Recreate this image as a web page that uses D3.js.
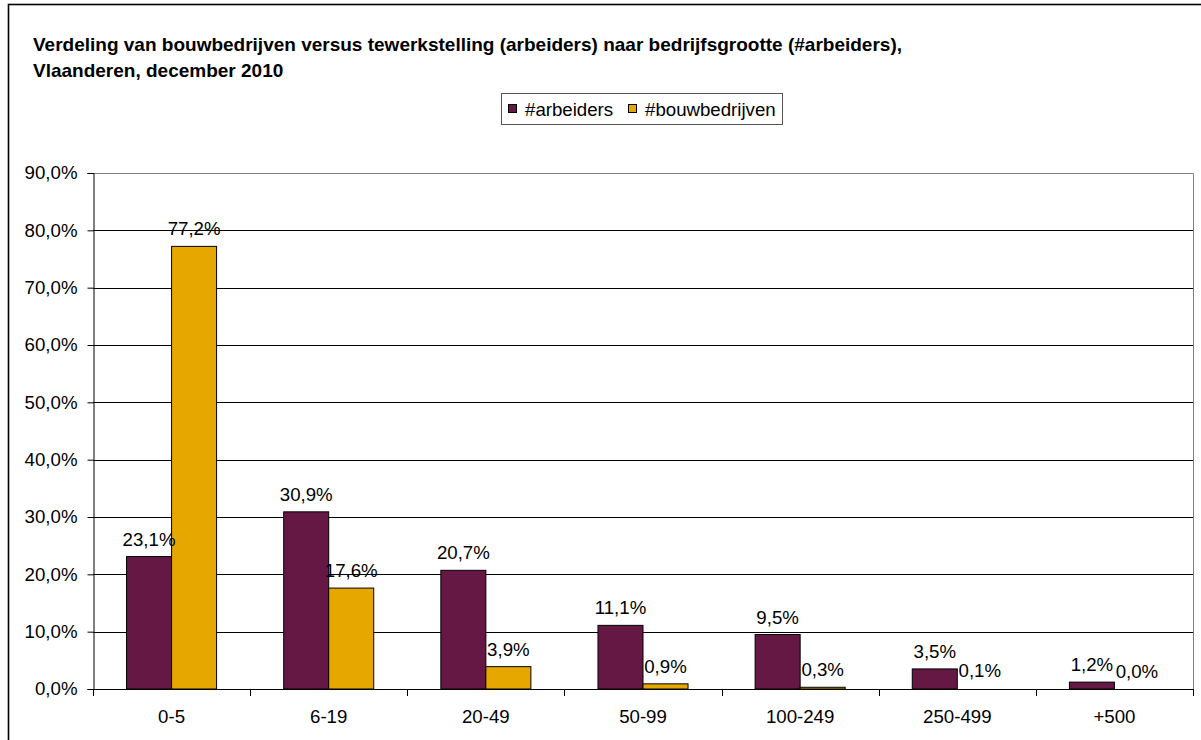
<!DOCTYPE html>
<html>
<head>
<meta charset="utf-8">
<script src="https://cdn.jsdelivr.net/npm/d3@7"></script>
<style>
  body { margin: 0; background: #fff; }
  svg { display: block; font-family: "Liberation Sans", Arial, sans-serif; }
</style>
</head>
<body>
<div id="chart"></div>
<script>
// data
const categories = ['0-5', '6-19', '20-49', '50-99', '100-249', '250-499', '+500'];
const seriesNames = ['#arbeiders', '#bouwbedrijven'];
const arbeiders = [23.1, 30.9, 20.7, 11.1, 9.5, 3.5, 1.2];
const bouwbedrijven = [77.2, 17.6, 3.9, 0.9, 0.3, 0.1, 0.0];
const yTicks = [0, 10, 20, 30, 40, 50, 60, 70, 80, 90];
const titleLines = [
  'Verdeling van bouwbedrijven versus tewerkstelling (arbeiders) naar bedrijfsgrootte (#arbeiders),',
  'Vlaanderen, december 2010'
];
const colors = ['#661845', '#E6A800'];

const W = 1201, H = 740;
const plot = { left: 93, right: 1193, top: 173, bottom: 689 };
const fmt = v => v.toFixed(1).replace('.', ',') + '%';

const svg = d3.select('#chart').append('svg')
  .attr('width', W)
  .attr('height', H);

// outer chart frame
svg.append('rect')
  .attr('x', 8.5).attr('y', 4.5)
  .attr('width', W).attr('height', H)
  .attr('fill', '#fff')
  .attr('stroke', '#000')
  .attr('stroke-width', 1.6);

// title
svg.append('text')
  .attr('x', 33)
  .attr('font-size', '19px')
  .attr('font-weight', 'bold')
  .selectAll('tspan')
  .data(titleLines)
  .enter()
  .append('tspan')
  .attr('x', 33)
  .attr('y', (d, i) => 51 + i * 26)
  .text(d => d);

// scales
const x0 = d3.scaleBand()
  .domain(categories)
  .range([plot.left, plot.right])
  .paddingInner(0.427)
  .paddingOuter(0.2135);

const x1 = d3.scaleBand()
  .domain(seriesNames)
  .range([0, x0.bandwidth()]);

const y = d3.scaleLinear()
  .domain([0, 90])
  .range([plot.bottom, plot.top]);

// gridlines
svg.append('g')
  .selectAll('line')
  .data(yTicks.slice(1, -1))
  .enter()
  .append('line')
  .attr('x1', plot.left).attr('x2', plot.right)
  .attr('y1', d => Math.round(y(d)) + 0.5)
  .attr('y2', d => Math.round(y(d)) + 0.5)
  .attr('stroke', '#000');

// plot area top/right border
svg.append('path')
  .attr('d', `M${plot.left},${plot.top + 0.5}H${plot.right + 0.5}V${plot.bottom}`)
  .attr('fill', 'none')
  .attr('stroke', '#808080');

// bars (bars thinner than a pixel are not visible in the original)
const series = [arbeiders, bouwbedrijven];
series.forEach((vals, s) => {
  svg.append('g')
    .selectAll('rect')
    .data(vals.map((v, i) => ({ v, i })).filter(d => y(0) - y(d.v) >= 1))
    .enter()
    .append('rect')
    .attr('x', d => x0(categories[d.i]) + x1(seriesNames[s]))
    .attr('y', d => y(d.v))
    .attr('width', x1.bandwidth())
    .attr('height', d => y(0) - y(d.v))
    .attr('fill', colors[s])
    .attr('stroke', '#000')
    .attr('stroke-width', 1);
});

// value labels
series.forEach((vals, s) => {
  svg.append('g')
    .selectAll('text')
    .data(vals)
    .enter()
    .append('text')
    .attr('text-anchor', 'middle')
    .attr('font-size', '18.67px')
    .attr('x', (d, i) => x0(categories[i]) + x1(seriesNames[s]) + x1.bandwidth() / 2)
    .attr('y', d => y(d) - 11)
    .text(d => fmt(d));
});

// y axis
const yAxis = svg.append('g')
  .attr('transform', `translate(${plot.left + 0.5},0)`)
  .call(d3.axisLeft(y).tickValues(yTicks).tickSize(6).tickPadding(10).tickFormat(fmt));
yAxis.selectAll('line, path').attr('stroke', '#000');
yAxis.selectAll('text')
  .attr('font-size', '18.67px')
  .attr('font-family', '"Liberation Sans", Arial, sans-serif')
  .attr('fill', '#000');

// x axis with ticks at category boundaries
const step = x0.step();
const bounds = d3.range(categories.length + 1).map(i => plot.left + i * step);
const xAxis = svg.append('g');
xAxis.append('line')
  .attr('x1', plot.left).attr('x2', plot.right + 1)
  .attr('y1', plot.bottom + 0.5).attr('y2', plot.bottom + 0.5)
  .attr('stroke', '#000');
xAxis.selectAll('.tick')
  .data(bounds)
  .enter()
  .append('line')
  .attr('x1', d => Math.round(d) + 0.5).attr('x2', d => Math.round(d) + 0.5)
  .attr('y1', plot.bottom).attr('y2', plot.bottom + 7)
  .attr('stroke', '#000');
xAxis.selectAll('text')
  .data(categories)
  .enter()
  .append('text')
  .attr('text-anchor', 'middle')
  .attr('font-size', '18.67px')
  .attr('x', d => x0(d) + x0.bandwidth() / 2)
  .attr('y', 723)
  .text(d => d);

// legend
const legend = svg.append('g').attr('transform', 'translate(501,93)');
legend.append('rect')
  .attr('x', 0.5).attr('y', 0.5)
  .attr('width', 281).attr('height', 31)
  .attr('fill', '#fff')
  .attr('stroke', '#555');
const legendX = [7, 127];
seriesNames.forEach((name, i) => {
  legend.append('rect')
    .attr('x', legendX[i] + 0.5).attr('y', 11.5)
    .attr('width', 8).attr('height', 8)
    .attr('fill', colors[i])
    .attr('stroke', '#000');
  legend.append('text')
    .attr('x', legendX[i] + 17)
    .attr('y', 23)
    .attr('font-size', '18.67px')
    .text(name);
});
</script>
</body>
</html>
